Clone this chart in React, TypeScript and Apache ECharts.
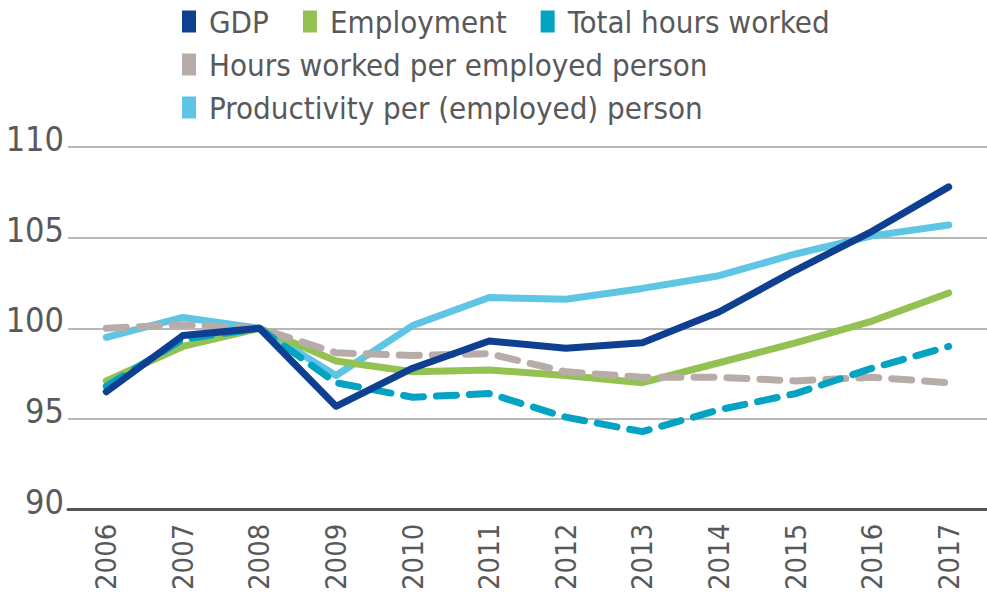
import React, { useEffect, useRef } from "react";
import * as echarts from "echarts";

const years = ["2006", "2007", "2008", "2009", "2010", "2011", "2012", "2013", "2014", "2015", "2016", "2017"];
const gdp = [96.5, 99.6, 100, 95.7, 97.8, 99.3, 98.9, 99.2, 100.9, 103.2, 105.35, 107.8];
const employment = [97.1, 99.0, 100, 98.2, 97.6, 97.7, 97.4, 97.0, 98.1, 99.2, 100.4, 101.95];
const totalHours = [96.8, 99.4, 100, 97.0, 96.2, 96.4, 95.1, 94.3, 95.5, 96.4, 97.8, 99.0];
const hoursPerPerson = [100.0, 100.2, 100, 98.65, 98.5, 98.6, 97.6, 97.3, 97.3, 97.1, 97.3, 97.0];
const productivity = [99.5, 100.6, 100, 97.4, 100.15, 101.7, 101.6, 102.2, 102.9, 104.1, 105.1, 105.7];

const FONT = "'DejaVu Sans Condensed', 'Liberation Sans Narrow', sans-serif";
const TEXT = "#58595b";

export default function App() {
  const ref = useRef<HTMLDivElement>(null);
  useEffect(() => {
    const chart = echarts.init(ref.current!, null, { renderer: "svg" });
    const legendCommon = {
      left: 177,
      icon: "rect",
      itemWidth: 14,
      itemHeight: 22,
      itemGap: 34,
      textStyle: { fontFamily: FONT, fontSize: 31, color: TEXT, padding: [0, 0, 0, 8] },
    };
    const line = (name: string, data: number[], color: string, dashed: boolean, z: number) => ({
      name,
      type: "line",
      data,
      symbol: "none",
      z,
      lineStyle: {
        color,
        width: 7,
        type: dashed ? [20, 13] : "solid",
        cap: "round",
        join: "round",
      },
      itemStyle: { color },
    });
    chart.setOption({
      animation: false,
      textStyle: { fontFamily: FONT },
      legend: [
        { ...legendCommon, top: 1, data: ["GDP", "Employment", "Total hours worked"] },
        { ...legendCommon, top: 44, data: ["Hours worked per employed person"] },
        { ...legendCommon, top: 87, data: ["Productivity per (employed) person"] },
      ],
      grid: { left: 68, right: -12, top: 147, bottom: 76, containLabel: false },
      xAxis: {
        type: "category",
        data: years,
        boundaryGap: true,
        axisLine: { lineStyle: { color: "#555", width: 3 } },
        axisTick: { inside: true, length: 10, lineStyle: { color: "#999", width: 1.5 } },
        axisLabel: {
          rotate: 90,
          fontFamily: FONT,
          fontSize: 29,
          color: TEXT,
          margin: 14,
        },
      },
      yAxis: {
        type: "value",
        min: 90,
        max: 110,
        interval: 5,
        axisLine: { show: false },
        axisTick: { show: false },
        splitLine: { lineStyle: { color: "#a0a0a0", width: 1.5 } },
        axisLabel: {
          fontFamily: FONT,
          fontSize: 34,
          color: TEXT,
          margin: 4,
          verticalAlign: "bottom",
          lineHeight: 16,
        },
      },
      series: [
        line("GDP", gdp, "#0f3f91", false, 6),
        line("Employment", employment, "#93c152", false, 3),
        line("Total hours worked", totalHours, "#04a3c4", true, 5),
        line("Hours worked per employed person", hoursPerPerson, "#b8aca8", true, 4),
        line("Productivity per (employed) person", productivity, "#5ec5e4", false, 2),
      ],
    });
    return () => chart.dispose();
  }, []);
  return (
    <div
      ref={ref}
      style={{ position: "absolute", left: 0, top: 0, width: 987, height: 593 }}
    />
  );
}
